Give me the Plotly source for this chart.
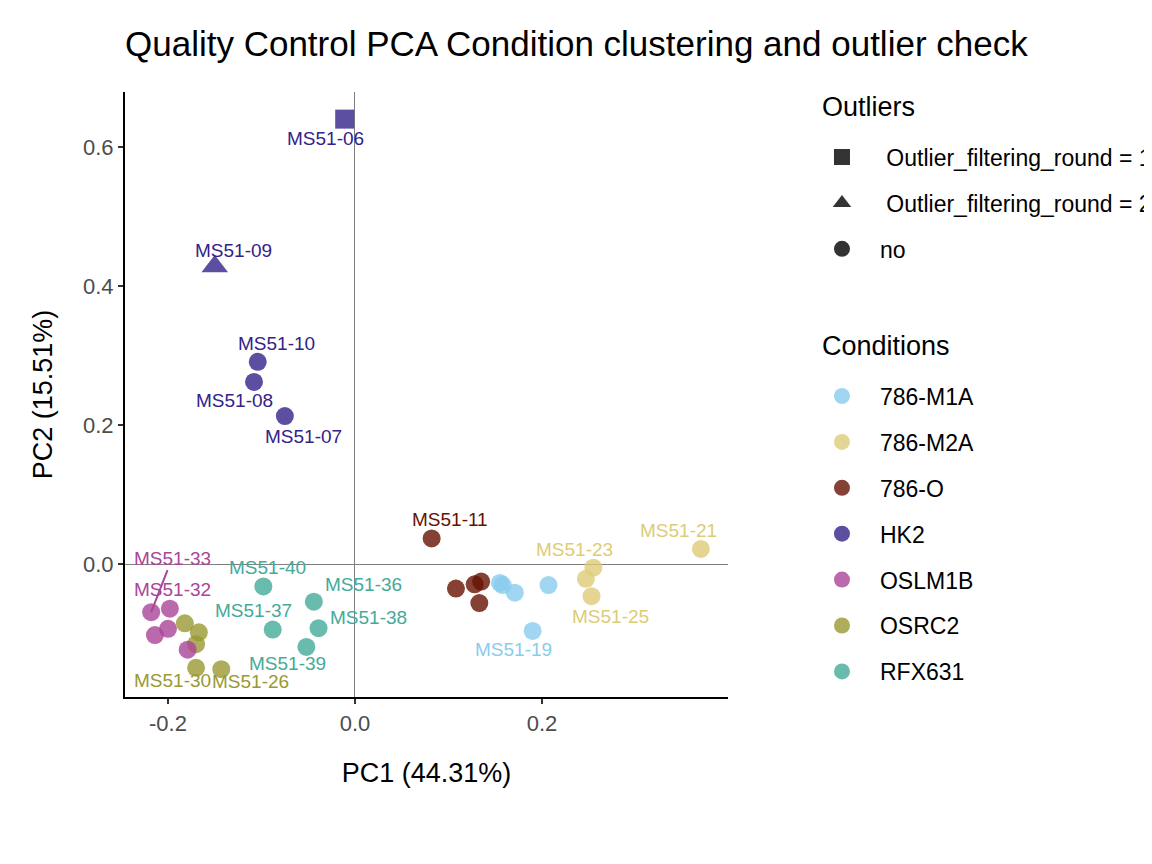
import plotly.graph_objects as go

# PCA scores per sample
samples = ["MS51-06", "MS51-07", "MS51-08", "MS51-09", "MS51-10",
           "MS51-11", "MS51-12", "MS51-13", "MS51-14", "MS51-15",
           "MS51-16", "MS51-17", "MS51-18", "MS51-19", "MS51-20",
           "MS51-21", "MS51-22", "MS51-23", "MS51-25",
           "MS51-26", "MS51-27", "MS51-28", "MS51-29", "MS51-30",
           "MS51-31", "MS51-32", "MS51-33", "MS51-34", "MS51-35",
           "MS51-36", "MS51-37", "MS51-38", "MS51-39", "MS51-40"]
conditions = ["HK2"] * 5 + ["786-O"] * 5 + ["786-M1A"] * 5 + ["786-M2A"] * 4 + \
             ["OSRC2"] * 5 + ["OSLM1B"] * 5 + ["RFX631"] * 5
pc1 = [-0.011, -0.075, -0.108, -0.150, -0.104,
       0.082, 0.108, 0.128, 0.135, 0.133,
       0.155, 0.158, 0.171, 0.190, 0.207,
       0.370, 0.247, 0.255, 0.253,
       -0.143, -0.182, -0.167, -0.170, -0.170,
       -0.214, -0.198, -0.218, -0.200, -0.179,
       -0.044, -0.088, -0.039, -0.052, -0.098]
pc2 = [0.640, 0.213, 0.262, 0.428, 0.291,
       0.037, -0.035, -0.029, -0.025, -0.056,
       -0.027, -0.030, -0.041, -0.096, -0.030,
       0.022, -0.021, -0.005, -0.046,
       -0.151, -0.085, -0.098, -0.115, -0.149,
       -0.102, -0.064, -0.069, -0.093, -0.123,
       -0.054, -0.094, -0.092, -0.119, -0.032]
outlier = ["Outlier_filtering_round = 1", "no", "no", "Outlier_filtering_round = 2"] + ["no"] * 30

labelled = ["MS51-06", "MS51-07", "MS51-08", "MS51-09", "MS51-10", "MS51-11",
            "MS51-19", "MS51-21", "MS51-23", "MS51-25", "MS51-26", "MS51-30",
            "MS51-32", "MS51-33", "MS51-36", "MS51-37", "MS51-38", "MS51-39", "MS51-40"]

condition_order = ["786-M1A", "786-M2A", "786-O", "HK2", "OSLM1B", "OSRC2", "RFX631"]
condition_colors = ["#88CCEE", "#DDCC77", "#661100", "#332288", "#AA4499", "#999933", "#44AA99"]
outlier_levels = ["Outlier_filtering_round = 1", "Outlier_filtering_round = 2", "no"]
outlier_symbols = ["square", "triangle-up", "circle"]

xtick_vals = [-0.2, 0.0, 0.2]
xtick_text = ["-0.2", "0.0", "0.2"]
ytick_vals = [0.0, 0.2, 0.4, 0.6]
ytick_text = ["0.0", "0.2", "0.4", "0.6"]

# repel-style label offsets in pixels (dx right, dy up)
label_shift = {
    "MS51-06": (-19, -19), "MS51-07": (19, -20), "MS51-08": (-20, -19),
    "MS51-09": (19, 16), "MS51-10": (19, 18), "MS51-11": (18, 19),
    "MS51-19": (-19, -19), "MS51-21": (-22, 18), "MS51-23": (-19, 18),
    "MS51-25": (19, -20), "MS51-26": (29, -12), "MS51-30": (-24, -13),
    "MS51-32": (3, 19), "MS51-33": (21, 54), "MS51-36": (50, 17),
    "MS51-37": (-19, 19), "MS51-38": (50, 11), "MS51-39": (-19, -17),
    "MS51-40": (4, 19),
}
with_segment = ["MS51-33"]

FONT = "Liberation Sans, Arial, sans-serif"
sym_of = dict(zip(outlier_levels, outlier_symbols))
size_of = {"square": 19, "triangle-up": 23, "circle": 18}
col_of = dict(zip(condition_order, condition_colors))

fig = go.Figure()

# points, drawn in sample order like ggplot
draw_order = list(dict.fromkeys(conditions))
for cond in draw_order:
    idx = [i for i, c in enumerate(conditions) if c == cond]
    syms = [sym_of[outlier[i]] for i in idx]
    fig.add_trace(go.Scatter(
        x=[pc1[i] for i in idx],
        y=[pc2[i] for i in idx],
        mode="markers",
        name=cond,
        text=[samples[i] for i in idx],
        marker=dict(color=col_of[cond], opacity=0.8, symbol=syms,
                    size=[size_of[s] for s in syms], line=dict(width=0)),
        showlegend=False,
    ))

# shape legend (Outliers)
for lev, sym in zip(outlier_levels, outlier_symbols):
    name = "\u00a0" + lev if lev != "no" else lev
    fig.add_trace(go.Scatter(
        x=[None], y=[None], mode="markers", name=name,
        marker=dict(color="#333333", symbol=sym, size=17 if sym != "triangle-up" else 21),
        legend="legend", legendgroup=lev, showlegend=True,
    ))

# colour legend (Conditions)
for cond, col in zip(condition_order, condition_colors):
    fig.add_trace(go.Scatter(
        x=[None], y=[None], mode="markers", name=cond,
        marker=dict(color=col, opacity=0.8, symbol="circle", size=19),
        legend="legend2", legendgroup=cond, showlegend=True,
    ))

# sample labels
for s in labelled:
    i = samples.index(s)
    dx, dy = label_shift[s]
    col = col_of[conditions[i]]
    if s in with_segment:
        fig.add_annotation(x=pc1[i], y=pc2[i], text=s, showarrow=True, arrowhead=0,
                           arrowwidth=2, arrowcolor=col, ax=dx, ay=-dy, standoff=0,
                           font=dict(family=FONT, size=19, color=col))
    else:
        fig.add_annotation(x=pc1[i], y=pc2[i], text=s, showarrow=False,
                           xshift=dx, yshift=dy,
                           font=dict(family=FONT, size=19, color=col))

# legend titles
for txt, ty in [("Outliers", 0.975), ("Conditions", 0.580)]:
    fig.add_annotation(x=1.1526, y=ty, xref="paper", yref="paper", text=txt,
                       showarrow=False, xanchor="left", yanchor="middle",
                       font=dict(family=FONT, size=27, color="black"))

axis_common = dict(showline=True, linecolor="black", linewidth=2.2, mirror=False,
                   showgrid=False, zeroline=True, zerolinecolor="#7F7F7F", zerolinewidth=1,
                   ticks="outside", ticklen=5, tickwidth=2, tickcolor="#333333",
                   tickfont=dict(family=FONT, size=22, color="#4D4D4D"))

legend_common = dict(xanchor="left", yanchor="top", font=dict(family=FONT, size=23, color="black"),
                     traceorder="grouped", tracegroupgap=13, itemsizing="trace",
                     itemwidth=66, bgcolor="rgba(0,0,0,0)")

fig.update_layout(
    width=1144, height=856,
    paper_bgcolor="white", plot_bgcolor="white",
    margin=dict(l=117, r=424, t=84, b=167, autoexpand=False),
    font=dict(family=FONT, color="black"),
    title=dict(text="Quality Control PCA Condition clustering and outlier check",
               x=0, xref="paper", xanchor="left", y=0.958, yanchor="middle",
               font=dict(family=FONT, size=35, color="black")),
    xaxis=dict(axis_common, range=[-0.246, 0.399], tickvals=xtick_vals, ticktext=xtick_text,
               title=dict(text="PC1 (44.31%)", standoff=29, font=dict(family=FONT, size=27))),
    yaxis=dict(axis_common, range=[-0.191, 0.679], tickvals=ytick_vals, ticktext=ytick_text,
               title=dict(text="PC2 (15.51%)", standoff=22, font=dict(family=FONT, size=27))),
    legend=dict(legend_common, x=1.126, y=0.928),
    legend2=dict(legend_common, x=1.126, y=0.533),
)

fig.write_html("out.html")
